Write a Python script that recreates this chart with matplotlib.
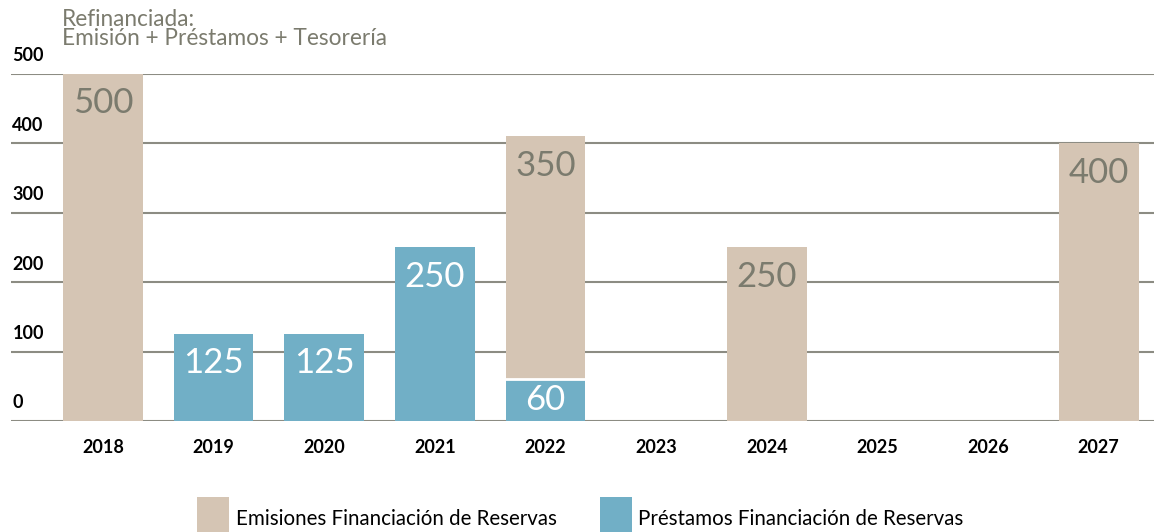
import matplotlib
matplotlib.use("Agg")
import matplotlib.pyplot as plt
from matplotlib.patches import Rectangle
import numpy as np

# --- Data ---
years = ["2018", "2019", "2020", "2021", "2022", "2023", "2024", "2025", "2026", "2027"]
prestamos = [0, 125, 125, 250, 60, 0, 0, 0, 0, 0]
emisiones = [500, 0, 0, 0, 350, 0, 250, 0, 0, 400]
yticks = [0, 100, 200, 300, 400, 500]

title_text = "Refinanciada:\nEmisión + Préstamos + Tesorería"
legend_labels = ["Emisiones Financiación de Reservas", "Préstamos Financiación de Reservas"]

# --- Style ---
BEIGE = "#d5c5b4"
BLUE = "#71afc6"
GRID = "#8c8c83"
LABEL_GREY = "#7b7b6e"
FONT = ["Lato", "DejaVu Sans"]

plt.rcParams['font.family'] = FONT

fig = plt.figure(figsize=(11.54, 5.32), dpi=100)
ax = fig.add_axes([11 / 1154, (532 - 421) / 532, (1154 - 11) / 1154, (421 - 74) / 532])

x = np.arange(len(years))
w = 0.72
pre = np.array(prestamos)
emi = np.array(emisiones)

ax.bar(x, pre, width=w, color=BLUE, zorder=2)
ax.bar(x, emi, width=w, bottom=pre, color=BEIGE, zorder=2, linewidth=0)
# white gap between stacked segments
for i in x:
    if pre[i] > 0 and emi[i] > 0:
        ax.plot([i - w / 2, i + w / 2], [pre[i], pre[i]], color="white", lw=2, zorder=3)

# value labels
VAL_FS = 25
for i in x:
    if emi[i] > 0:
        top = pre[i] + emi[i]
        ax.annotate(str(emi[i]), (i, top), xytext=(0, -21), textcoords="offset points",
                    ha="center", va="center", fontsize=VAL_FS, color=LABEL_GREY, zorder=4)
    if pre[i] > 0:
        if emi[i] > 0:
            ax.annotate(str(pre[i]), (i, pre[i] / 2), ha="center", va="center",
                        fontsize=VAL_FS, color="white", zorder=4)
        else:
            ax.annotate(str(pre[i]), (i, pre[i]), xytext=(0, -21), textcoords="offset points",
                        ha="center", va="center", fontsize=VAL_FS, color="white", zorder=4)

ax.set_xlim(-0.83, 9.5)
ax.set_ylim(0, 500)

for v in yticks:
    ax.axhline(v, color=GRID, lw=1.5, zorder=1)
    ax.annotate(str(v), (0, v), xycoords=("axes fraction", "data"),
                xytext=(1, 13), textcoords="offset points",
                ha="left", va="center", fontsize=13, color="black", fontweight="bold")

ax.set_xticks(x)
ax.set_xticklabels(years, fontsize=13, fontweight="bold")
ax.tick_params(axis="x", length=0, pad=13)
ax.set_yticks([])
for s in ax.spines.values():
    s.set_visible(False)

fig.text(62 / 1154, 1 - 9 / 532, title_text, ha="left", va="top", fontsize=16.3,
         color=LABEL_GREY, linespacing=0.9)

# legend
for (x0, tx), col, lab in zip([(197, 236), (600, 638)], [BEIGE, BLUE], legend_labels):
    fig.add_artist(Rectangle((x0 / 1154, 0), 32 / 1154, 35 / 532, transform=fig.transFigure,
                             color=col, lw=0))
    fig.text(tx / 1154, 3 / 532, lab, ha="left", va="bottom", fontsize=14.8, color="black")

fig.savefig("out.png", dpi=100)
